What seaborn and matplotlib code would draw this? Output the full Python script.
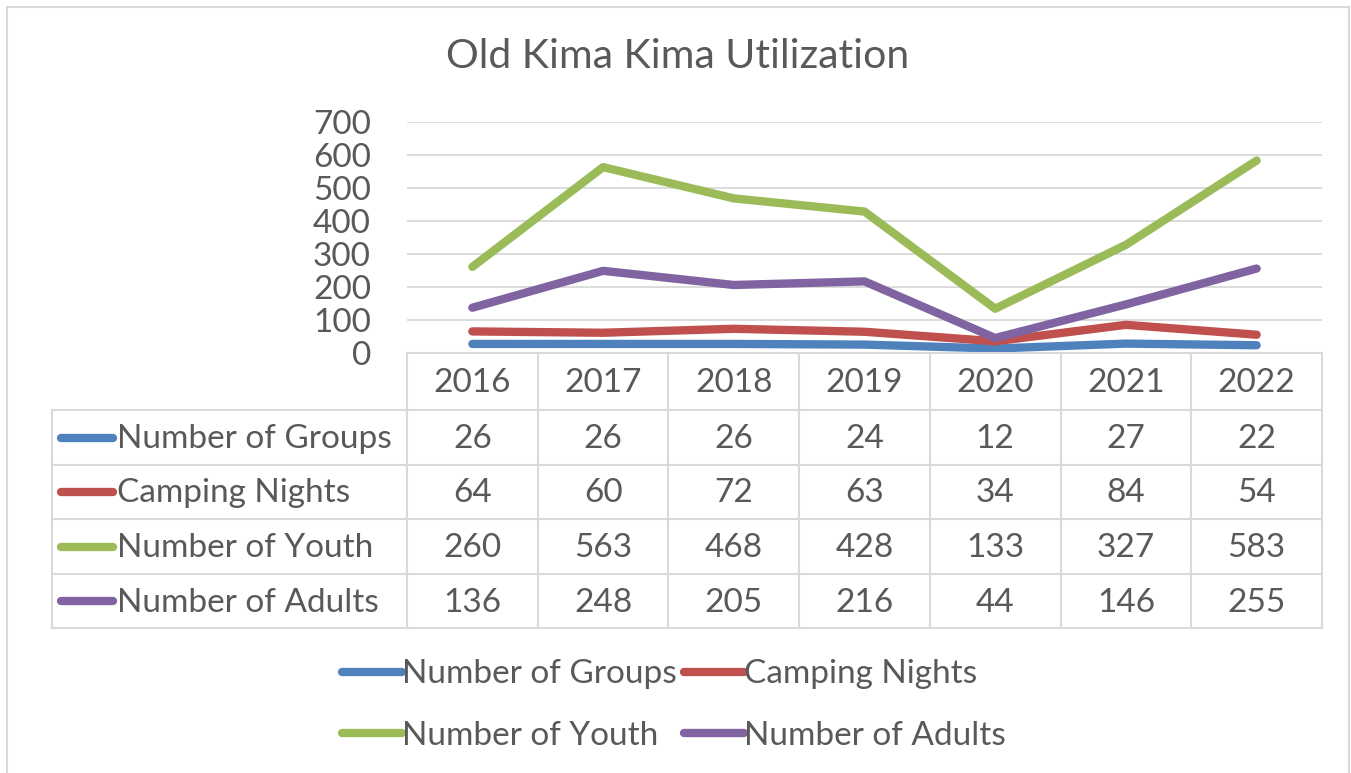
import pandas as pd
import seaborn as sns
import matplotlib.pyplot as plt
from matplotlib.patches import Rectangle

years = ['2016', '2017', '2018', '2019', '2020', '2021', '2022']
series_names = ['Number of Groups', 'Camping Nights', 'Number of Youth', 'Number of Adults']
groups = [26, 26, 26, 24, 12, 27, 22]
camping_nights = [64, 60, 72, 63, 34, 84, 54]
youth = [260, 563, 468, 428, 133, 327, 583]
adults = [136, 248, 205, 216, 44, 146, 255]
colors = ['#4F81BD', '#C0504D', '#9BBB59', '#8064A2']

values = [groups, camping_nights, youth, adults]
rows = []
for name, vals in zip(series_names, values):
    for i, v in enumerate(vals):
        rows.append({'pos': i, 'year': years[i], 'series': name, 'value': v})
df = pd.DataFrame(rows)

sns.set_style('white')
plt.rcParams['font.family'] = ['Lato', 'DejaVu Sans']
txt = '#595959'
grid = '#D9D9D9'
fs = 24

W, H = 1351, 773
fig = plt.figure(figsize=(W / 100, H / 100), dpi=100)


def box(x0, y0, x1, y1):
    # pixel coords (top-left origin) -> figure fraction
    return [x0 / W, 1 - y1 / H, (x1 - x0) / W, (y1 - y0) / H]


# outer chart border
fig.patches.append(Rectangle((7 / W, -0.05), (1349 - 7) / W, 1.05 - 7 / H,
                             transform=fig.transFigure, fill=False,
                             edgecolor=grid, linewidth=1.5))

fig.text(678 / W, 1 - 57 / H, 'Old Kima Kima Utilization', ha='center', va='center',
         fontsize=29.5, color=txt)

# line chart area
ax = fig.add_axes(box(407, 122, 1322, 352.5))
sns.lineplot(data=df, x='pos', y='value', hue='series', palette=colors,
             linewidth=6, ax=ax, legend=False, solid_capstyle='round')
ax.set_xlim(-0.5, 6.5)
ax.set_ylim(0, 700)
ax.set_yticks(range(0, 701, 100))
ax.set_xticks([])
ax.set_xlabel('')
ax.set_ylabel('')
ax.yaxis.grid(True, color=grid, linewidth=1.3)
ax.set_axisbelow(True)
for s in ax.spines.values():
    s.set_visible(False)
ax.tick_params(axis='y', length=0, pad=26, labelsize=fs, labelcolor=txt)

# data table
tx = fig.add_axes(box(52, 352.5, 1322, 628))
tx.set_xlim(52, 1322)
tx.set_ylim(628, 352.5)
tx.axis('off')
col_edges = [407 + i * (1322 - 407) / 7 for i in range(8)]
row_edges = [352.5, 410, 465, 519, 574, 628]
lk = dict(color=grid, linewidth=1.5, clip_on=False)
for x in col_edges:
    tx.plot([x, x], [352.5, 628], **lk)
tx.plot([52, 52], [410, 628], **lk)
tx.plot([407, 1322], [352.5, 352.5], **lk)
for y in row_edges[1:]:
    tx.plot([52, 1322], [y, y], **lk)
for i, yr in enumerate(years):
    cx = (col_edges[i] + col_edges[i + 1]) / 2
    tx.text(cx, (row_edges[0] + row_edges[1]) / 2 + 2, yr, ha='center', va='center',
            fontsize=fs, color=txt)
for r, (name, vals, c) in enumerate(zip(series_names, values, colors)):
    cy = (row_edges[r + 1] + row_edges[r + 2]) / 2
    tx.plot([61, 113], [cy, cy], color=c, linewidth=6, solid_capstyle='round')
    tx.text(117, cy + 1.5, name, ha='left', va='center', fontsize=fs, color=txt)
    for i, v in enumerate(vals):
        cx = (col_edges[i] + col_edges[i + 1]) / 2
        tx.text(cx, cy + 1.5, str(v), ha='center', va='center', fontsize=fs, color=txt)

# legend below
handles = ax.get_lines()[:4]
order = [0, 2, 1, 3]
leg = fig.legend([handles[i] for i in order], [series_names[i] for i in order],
                 loc='center', bbox_to_anchor=(674 / W, 1 - 705 / H), ncol=2,
                 frameon=False, fontsize=fs, handlelength=1.8, handletextpad=0.0,
                 columnspacing=0.2, labelspacing=0.95, labelcolor=txt)
for h in leg.legend_handles:
    h.set_linewidth(6)
    h.set_solid_capstyle('round')

fig.savefig('out.png', dpi=100)
